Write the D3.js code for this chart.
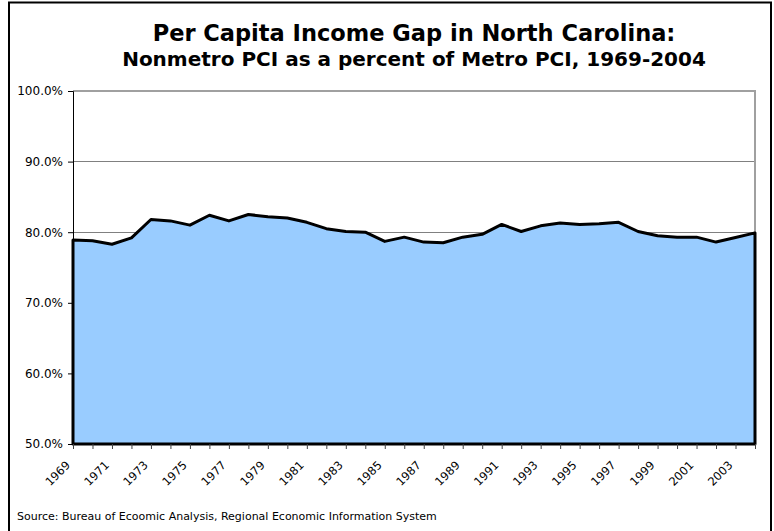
<!DOCTYPE html>
<html>
<head>
<meta charset="utf-8">
<script src="https://cdn.jsdelivr.net/npm/d3@7"></script>
<style>
  html, body { margin: 0; padding: 0; background: #fff; }
  svg { display: block; }
</style>
</head>
<body>
<script>
// Nonmetro per capita income as a percent of metro PCI, North Carolina
const years = d3.range(1969, 2005);
const gapPct = [
  78.9, 78.8, 78.3, 79.2, 81.8, 81.6, 81.0, 82.4, 81.6, 82.5,
  82.2, 82.0, 81.4, 80.5, 80.1, 80.0, 78.7, 79.3, 78.6, 78.5,
  79.3, 79.7, 81.1, 80.1, 80.9, 81.3, 81.1, 81.2, 81.4, 80.1,
  79.5, 79.3, 79.3, 78.6, 79.25, 79.9
];
const yTicks = [50, 60, 70, 80, 90, 100];
const xLabelYears = d3.range(1969, 2004, 2);
const titleLines = [
  "Per Capita Income Gap in North Carolina:",
  "Nonmetro PCI as a percent of Metro PCI, 1969-2004"
];
const sourceNote = "Source: Bureau of Ecoomic Analysis, Regional Economic Information System";

const W = 774, H = 531;
const plot = { left: 73, right: 755, top: 91, bottom: 444 };
const font = "'DejaVu Sans', Verdana, sans-serif";

const svg = d3.select("body").append("svg").attr("width", W).attr("height", H);

// chart frame
svg.append("rect")
  .attr("x", 9).attr("y", 2.5).attr("width", 762).attr("height", 560)
  .attr("fill", "#fff").attr("stroke", "#000").attr("stroke-width", 2);

const x = d3.scalePoint().domain(years).range([plot.left, plot.right]);
const y = d3.scaleLinear().domain([50, 100]).range([plot.bottom, plot.top]);

// gridlines
svg.append("g").selectAll("line").data(yTicks.filter(t => t > 50 && t < 100)).join("line")
  .attr("x1", plot.left).attr("x2", plot.right)
  .attr("y1", d => y(d)).attr("y2", d => y(d))
  .attr("stroke", "#808080").attr("stroke-width", 1).attr("shape-rendering", "crispEdges");

// plot border (top and right)
svg.append("path")
  .attr("d", `M${plot.left},${plot.top}H${plot.right}V${plot.bottom}`)
  .attr("fill", "none").attr("stroke", "#a0a0a0").attr("stroke-width", 2);

// area
const data = years.map((yr, i) => ({ yr, v: gapPct[i] }));
const area = d3.area().x(d => x(d.yr)).y0(y(50)).y1(d => y(d.v));
svg.append("path")
  .datum(data)
  .attr("d", area)
  .attr("fill", "#99ccff")
  .attr("stroke", "#000")
  .attr("stroke-width", 3)
  .attr("stroke-linejoin", "round");

// y axis
const yAxis = d3.axisLeft(y).tickValues(yTicks).tickSize(5).tickPadding(5)
  .tickFormat(d => d3.format(".1f")(d) + "%");
const gy = svg.append("g").attr("transform", `translate(${plot.left},0)`).call(yAxis);
gy.select(".domain").attr("stroke", "#000");
gy.selectAll(".tick line").attr("stroke", "#000");
gy.selectAll("text").attr("font-family", font).attr("font-size", 12).attr("fill", "#000");

// x axis
const xAxis = d3.axisBottom(x).tickSize(5).tickFormat(() => "");
const gx = svg.append("g").attr("transform", `translate(0,${plot.bottom})`).call(xAxis);
gx.select(".domain").remove();
gx.selectAll(".tick line").attr("stroke", "#404040");

svg.append("g").selectAll("text").data(xLabelYears).join("text")
  .attr("transform", d => `translate(${x(d) - 5},${plot.bottom + 19}) rotate(-45)`)
  .attr("text-anchor", "end")
  .attr("dy", "0.35em")
  .attr("font-family", font).attr("font-size", 11.5)
  .text(d => d);

// title
svg.append("g").selectAll("text").data(titleLines).join("text")
  .attr("x", 414).attr("y", (d, i) => 41 + i * 25)
  .attr("text-anchor", "middle")
  .attr("font-family", font).attr("font-weight", "bold")
  .attr("font-size", (d, i) => i === 0 ? 22.5 : 20)
  .text(d => d);

// source note
svg.append("text")
  .attr("x", 17).attr("y", 520)
  .attr("font-family", font).attr("font-size", 11)
  .text(sourceNote);
</script>
</body>
</html>
